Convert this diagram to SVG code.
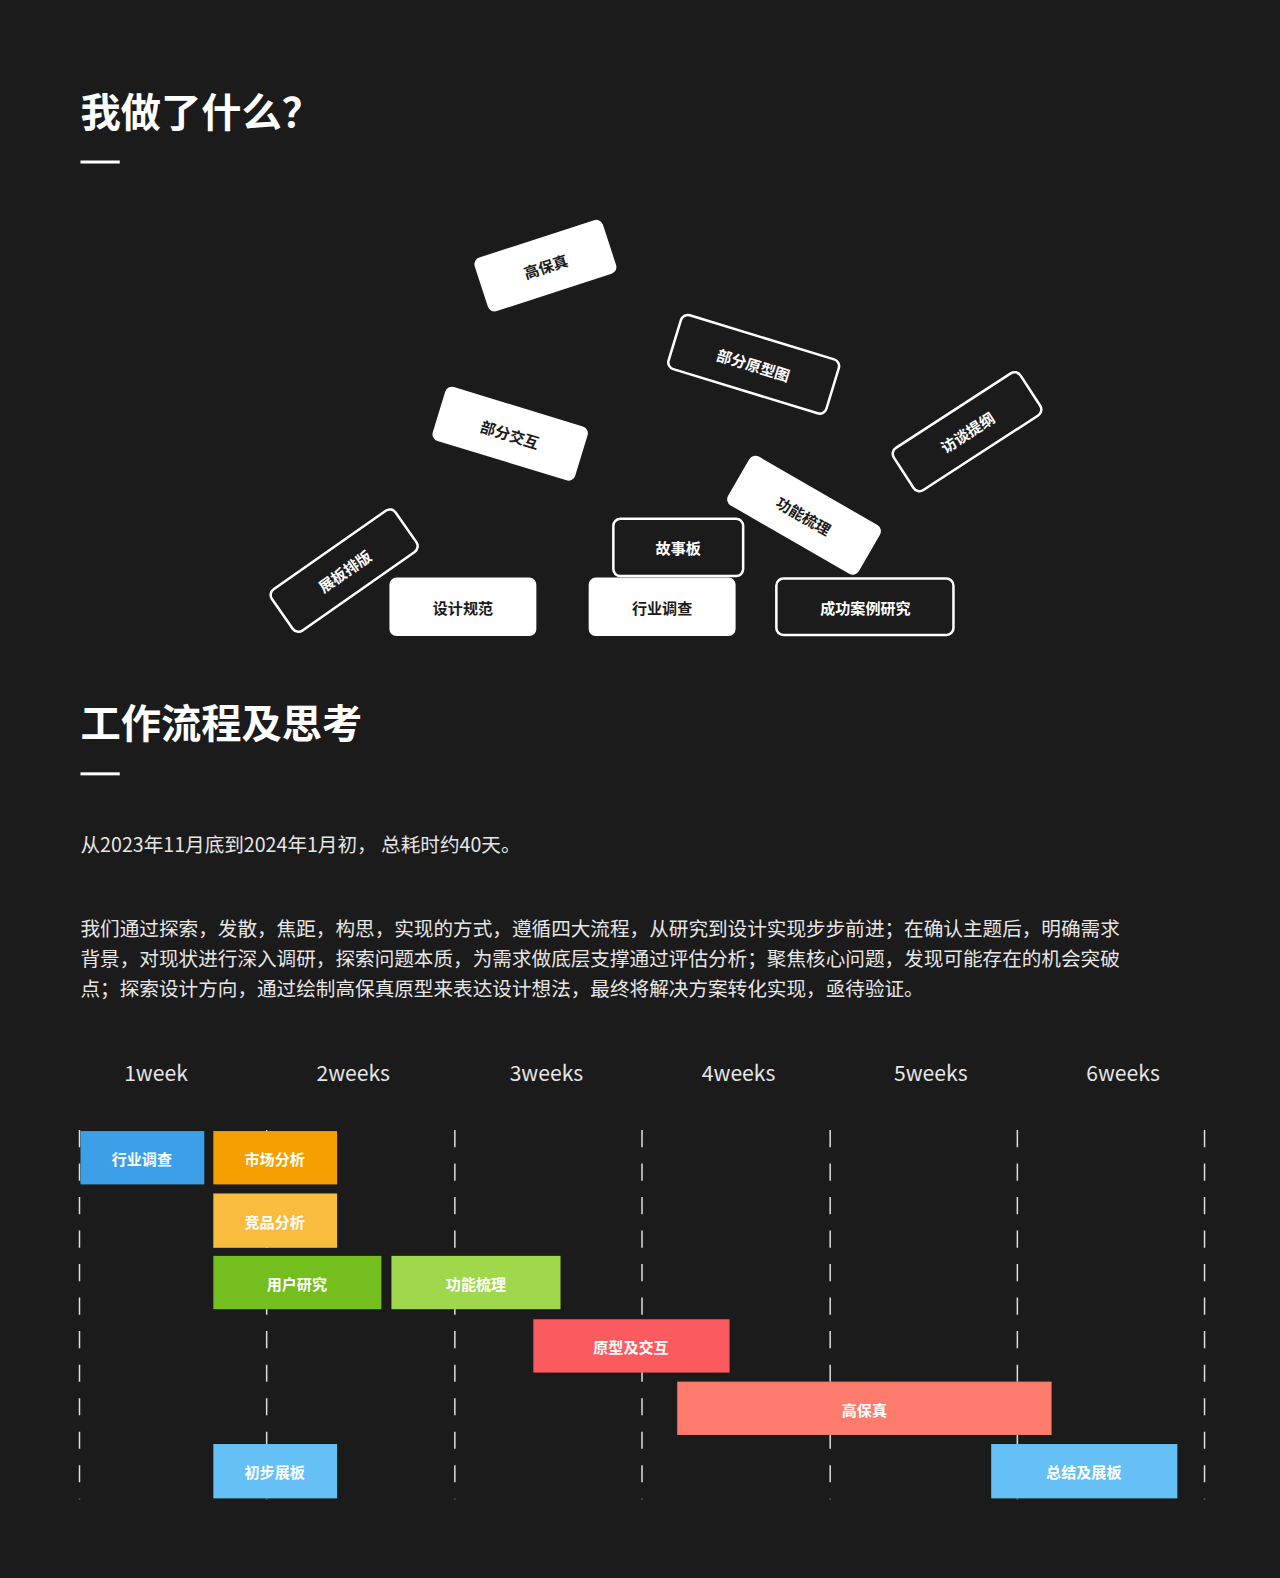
<svg xmlns="http://www.w3.org/2000/svg" width="1280" height="1578" viewBox="0 0 1280 1578">
<style>
text{font-family:"Noto Sans CJK SC","Noto Sans",sans-serif}
.h{fill:#fff;font-size:40px;font-weight:700}
.p{fill:#e6e6e6;font-size:19.5px}
.w{fill:#e6e6e6;font-size:21px;text-anchor:middle}
.tw{fill:#fff;rx:7}
.to{fill:#1b1b1b;stroke:#fff;stroke-width:2.5;rx:7}
.lb{font-size:15px;font-weight:700;text-anchor:middle;dominant-baseline:central}
.dk{fill:#1b1b1b}.lt{fill:#fff}
.g{stroke:#ddd;stroke-width:1.5;stroke-dasharray:17 16.3}
.bt{fill:#fff;font-size:15px;font-weight:700;text-anchor:middle;dominant-baseline:central}
</style>
<rect width="1280" height="1578" fill="#1b1b1b"/>
<g transform="scale(1.00629)">
<text class="h" x="80" y="126">我做了什么？</text>
<rect x="80" y="159.5" width="39" height="3" fill="#fff"/>
<g id="tag-gbz" transform="translate(542,264) rotate(-18)"><rect class="tw" x="-67" y="-28" width="134" height="56"/><text class="lb dk">高保真</text></g>
<g id="tag-bfyxt" transform="translate(749,362) rotate(17)"><rect class="to" x="-82" y="-28" width="164" height="56"/><text class="lb lt">部分原型图</text></g>
<g id="tag-bfjh" transform="translate(507,431) rotate(17)"><rect class="tw" x="-74" y="-28" width="148" height="56"/><text class="lb dk">部分交互</text></g>
<g id="tag-ftty" transform="translate(961,429) rotate(-33)"><rect class="to" x="-75" y="-25" width="150" height="50"/><text class="lb lt">访谈提纲</text></g>
<g id="tag-gnsl" transform="translate(799,512) rotate(30)"><rect class="tw" x="-75" y="-28" width="150" height="56"/><text class="lb dk">功能梳理</text></g>
<g id="tag-zbpb" transform="translate(342,567) rotate(-35)"><rect class="to" x="-75" y="-25" width="150" height="50"/><text class="lb lt">展板排版</text></g>
<g id="tag-gsb"><rect class="to" x="609.5" y="515.5" width="129" height="57"/><text class="lb lt" x="674" y="544">故事板</text></g>
<g id="tag-sjgf"><rect class="tw" x="387" y="574" width="146" height="58"/><text class="lb dk" x="460" y="603">设计规范</text></g>
<g id="tag-hydc"><rect class="tw" x="585" y="574" width="146" height="58"/><text class="lb dk" x="658" y="603">行业调查</text></g>
<g id="tag-cgal"><rect class="to" x="771.5" y="575" width="176" height="56"/><text class="lb lt" x="860" y="603">成功案例研究</text></g>

<text class="h" x="80" y="733">工作流程及思考</text>
<rect x="80" y="767.5" width="39" height="3" fill="#fff"/>
<text class="p" x="80" y="847">从2023年11月底到2024年1月初， 总耗时约40天。</text>
<text class="p" x="80" y="930">我们通过探索，发散，焦距，构思，实现的方式，遵循四大流程，从研究到设计实现步步前进；在确认主题后，明确需求</text>
<text class="p" x="80" y="960">背景，对现状进行深入调研，探索问题本质，为需求做底层支撑通过评估分析；聚焦核心问题，发现可能存在的机会突破</text>
<text class="p" x="80" y="990">点；探索设计方向，通过绘制高保真原型来表达设计想法，最终将解决方案转化实现，亟待验证。</text>

<g id="weeks">
<text class="w" x="155" y="1074">1week</text><text class="w" x="351" y="1074">2weeks</text><text class="w" x="543" y="1074">3weeks</text><text class="w" x="734" y="1074">4weeks</text><text class="w" x="925" y="1074">5weeks</text><text class="w" x="1116" y="1074">6weeks</text>
</g>
<g id="grid">
<line class="g" x1="79" y1="1123" x2="79" y2="1490"/><line class="g" x1="265" y1="1123" x2="265" y2="1490"/><line class="g" x1="452" y1="1123" x2="452" y2="1490"/><line class="g" x1="638" y1="1123" x2="638" y2="1490"/><line class="g" x1="825" y1="1123" x2="825" y2="1490"/><line class="g" x1="1011" y1="1123" x2="1011" y2="1490"/><line class="g" x1="1197" y1="1123" x2="1197" y2="1490"/>
</g>
<g id="bar1"><rect x="80" y="1124" width="123" height="53" fill="#3ba0e8"/><text class="bt" x="141" y="1151">行业调查</text></g>
<g id="bar2"><rect x="212" y="1124" width="123" height="53" fill="#f5a000"/><text class="bt" x="273" y="1151">市场分析</text></g>
<g id="bar3"><rect x="212" y="1186" width="123" height="54" fill="#f9bc3e"/><text class="bt" x="273" y="1213">竞品分析</text></g>
<g id="bar4"><rect x="212" y="1248" width="167" height="53" fill="#74be1e"/><text class="bt" x="295" y="1275">用户研究</text></g>
<g id="bar5"><rect x="389" y="1248" width="168" height="53" fill="#a0d84c"/><text class="bt" x="473" y="1275">功能梳理</text></g>
<g id="bar6"><rect x="530" y="1311" width="195" height="53" fill="#fb5a5e"/><text class="bt" x="627" y="1338">原型及交互</text></g>
<g id="bar7"><rect x="673" y="1373" width="372" height="53" fill="#fe7b6e"/><text class="bt" x="859" y="1400">高保真</text></g>
<g id="bar8"><rect x="212" y="1435" width="123" height="54" fill="#64c0f5"/><text class="bt" x="273" y="1462">初步展板</text></g>
<g id="bar9"><rect x="985" y="1435" width="185" height="54" fill="#64c0f5"/><text class="bt" x="1077" y="1462">总结及展板</text></g>
</g>
</svg>
